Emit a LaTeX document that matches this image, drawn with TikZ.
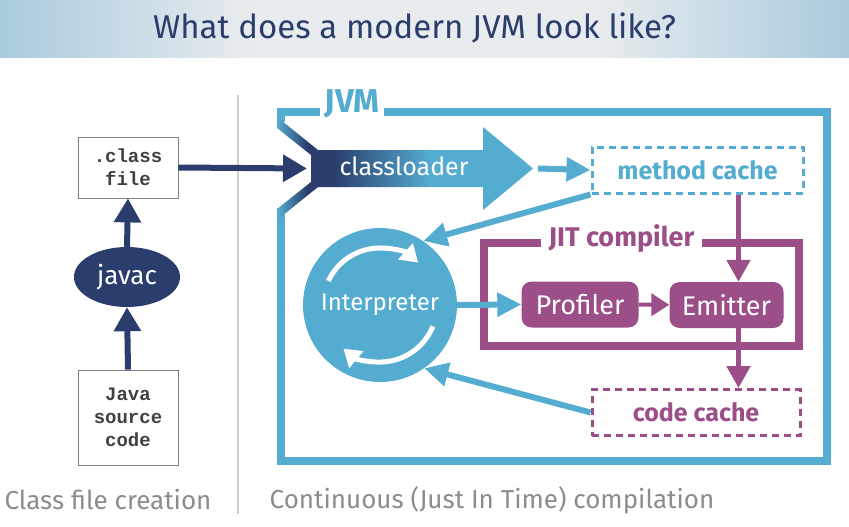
\documentclass[tikz,border=0pt]{standalone}
\usepackage{fontspec}
\setmainfont{Fira Sans}
\newfontfamily\codefont{Liberation Mono}
\usetikzlibrary{arrows.meta}
\usetikzlibrary{shapes.geometric}

\definecolor{jvmnavy}{HTML}{2A3D6C}
\definecolor{jvmblue}{HTML}{55ACD1}
\definecolor{jitpurple}{HTML}{9B4E88}
\definecolor{captiongrey}{HTML}{8C8C8C}
\definecolor{bandblue}{HTML}{A9CBDE}
\definecolor{bandgrey}{HTML}{E9ECEE}

\pgfdeclarehorizontalshading{titleband}{100bp}{color(0bp)=(bandblue); color(25bp)=(bandblue); color(40bp)=(bandgrey); color(60bp)=(bandgrey); color(75bp)=(bandblue); color(100bp)=(bandblue)}
\pgfdeclarehorizontalshading{loadershade}{100bp}{color(0bp)=(jvmblue); color(25bp)=(jvmblue); color(31bp)=(jvmnavy); color(36bp)=(jvmnavy); color(55bp)=(jvmblue); color(100bp)=(jvmblue)}

\begin{document}
\begin{tikzpicture}[x=1pt, y=-1pt,
  navypath/.style={-{Triangle[length=24pt,width=26pt]}, line width=6pt, draw=jvmnavy},
  bluepath/.style={-{Triangle[length=24pt,width=23pt]}, line width=6pt, draw=jvmblue},
  jitpath/.style={-{Triangle[length=22pt,width=23pt]}, line width=5pt, draw=jitpurple},
  loop/.style={white, line width=5pt, -{Triangle[length=17pt,width=21pt]}},
  filebox/.style={draw=gray, line width=0.8pt, minimum width=100pt, text=darkgray, align=center,
    font=\codefont\bfseries\fontsize{19}{23}\selectfont},
  stage/.style={fill=jitpurple, rounded corners=10pt, text=white, minimum height=46pt,
    font=\fontsize{27}{30}\selectfont},
  cachebox/.style={dash pattern=on 7pt off 5pt, line width=3pt, minimum width=208pt, minimum height=46pt,
    font=\bfseries\fontsize{25}{28}\selectfont},
  caption/.style={text=captiongrey, font=\fontsize{26}{30}\selectfont}]

 \useasboundingbox (0,0) rectangle (849,527);

 \shade[shading=titleband] (0,0) rectangle (849,58);
 \node[text=jvmnavy, font=\fontsize{33}{38}\selectfont] (title) at (414.5,28)
     {What does a modern JVM look like?};

 \draw[gray!40, line width=1.5pt] (238,95) -- (238,514);

 \node[filebox, minimum height=61pt] (class_file) at (128,167.5)
     {.class\\file};

 \node[ellipse, fill=jvmnavy, minimum width=106pt, minimum height=60pt, text=white,
     font=\fontsize{26}{30}\selectfont] (javac) at (127,277)
     {javac};

 \node[filebox, minimum height=95pt] (source_code) at (128,417.5)
     {Java\\source\\code};

 \draw [navypath] (source_code.north) -- (javac.south);
 \draw [navypath] (javac.north) -- (class_file.south);

 \node[caption] (left_caption) at (108,500) {Class file creation};
 \node[caption] (right_caption) at (492,500) {Continuous (Just In Time) compilation};

 \draw[jvmblue, line width=8pt] (281,122) -- (281,112) -- (827,112) -- (827,461) -- (281,461) -- (281,208);
 \node[fill=white, text=jvmblue, inner xsep=5pt, font=\bfseries\fontsize{33}{36}\selectfont] (jvm_label) at (352,104)
     {JVM};

 \shade[shading=loadershade] (277,117) -- (318,150) -- (483,150) -- (483,127) -- (533,168.5) -- (483,210)
     -- (483,187) -- (318,187) -- (277,220) -- (277,209) -- (311,182) -- (311,155) -- (277,128) -- cycle;
 \node[text=white, font=\fontsize{25}{28}\selectfont] (classloader) at (404,166)
     {classloader};

 \coordinate (loader_in) at (307,168.5);
 \coordinate (loader_tip) at (538,168.5);
 \draw [navypath] (class_file.east) -- (loader_in);

 \node[cachebox, draw=jvmblue, text=jvmblue, minimum width=211pt] (method_cache) at (697.5,170)
     {method cache};
 \draw [bluepath] (loader_tip) -- (method_cache.west);

 \node[circle, fill=jvmblue, minimum size=154pt, text=white, font=\fontsize{24}{28}\selectfont] (interpreter) at (380,305)
     {Interpreter};
 \draw[loop] (interpreter.center) ++(-155:57) arc[start angle=-155, end angle=-48, radius=57];
 \draw[loop] (interpreter.center) ++(22:57) arc[start angle=22, end angle=130, radius=57];

 \node[draw=jitpurple, line width=8pt, minimum width=315pt, minimum height=103pt] (jit_compiler) at (641.5,294.5) {};
 \node[fill=white, text=jitpurple, inner xsep=8pt, font=\bfseries\fontsize{27}{30}\selectfont] (jit_label)
     at ([xshift=-20pt]jit_compiler.north) {JIT compiler};

 \node[stage, minimum width=117pt] (profiler) at (580,304.5) {Profiler};
 \node[stage, minimum width=114pt] (emitter) at (726.5,305) {Emitter};

 \node[cachebox, draw=jitpurple, text=jitpurple] (code_cache) at (696,412.5)
     {code cache};

 \coordinate (cache_drop) at ([xshift=12pt]emitter.north);
 \coordinate (emit_out) at ([xshift=12pt]emitter.south);

 \draw [bluepath] (interpreter.east) -- (profiler.west);
 \draw [jitpath, line width=4pt, -{Triangle[length=18pt,width=22pt]}] (profiler) -- (emitter);
 \draw [jitpath] (cache_drop |- method_cache.south) -- (cache_drop);
 \draw [jitpath] (emit_out) -- (emit_out |- code_cache.north);
 \draw [bluepath] (method_cache.south west) -- (interpreter.56);
 \draw [bluepath] (code_cache.west) -- (interpreter.-55);

 \end{tikzpicture}
\end{document}
